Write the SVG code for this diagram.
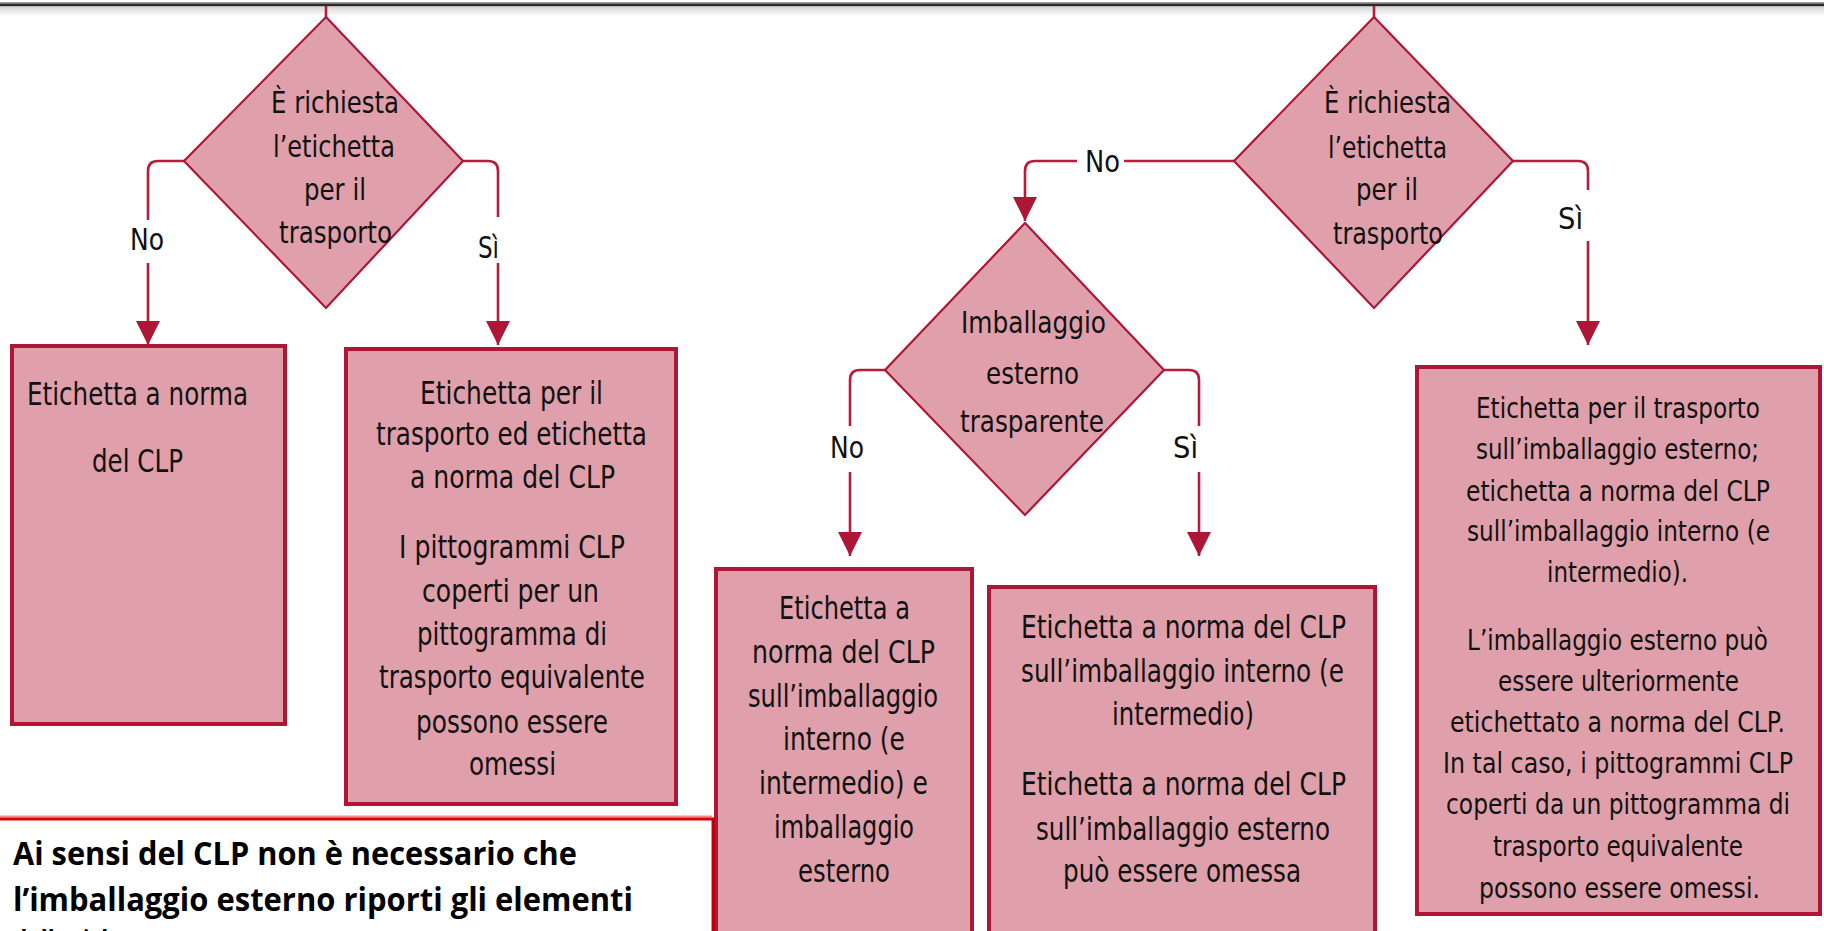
<svg xmlns="http://www.w3.org/2000/svg" width="1824" height="931" viewBox="0 0 1824 931">
<defs>
<style>
.t{font-family:"DejaVu Sans",Verdana,sans-serif;font-size:32px;fill:#111}
.td{font-family:"DejaVu Sans",Verdana,sans-serif;font-size:31px;fill:#111}
.t5{font-family:"DejaVu Sans",Verdana,sans-serif;font-size:25px;fill:#111}
.lbl{font-family:"DejaVu Sans",Verdana,sans-serif;font-size:31px;fill:#111}
.note{font-family:"Open Sans","Liberation Sans",sans-serif;font-weight:bold;font-size:33px;fill:#000}
.box{fill:#DFA0AB;stroke:#AE1637;stroke-width:4}
.dia{fill:#DFA0AB;stroke:#AE1637;stroke-width:2.2}
.con{fill:none;stroke:#B71C3C;stroke-width:2.6}
</style>
<marker id="arr" markerUnits="userSpaceOnUse" markerWidth="24" markerHeight="24" refX="24" refY="12" orient="auto" viewBox="0 0 24 24">
<path d="M0,0 L24,12 L0,24 z" fill="#AE1637"/>
</marker>
<linearGradient id="shade" x1="0" y1="0" x2="0" y2="1">
<stop offset="0" stop-color="#d6d6d6"/>
<stop offset="1" stop-color="#ffffff"/>
</linearGradient>
</defs>
<rect x="0" y="0" width="1824" height="931" fill="#fff"/>
<g id="topbar">
<rect x="0" y="2" width="1824" height="1.5" fill="#9a9a9a"/>
<rect x="0" y="3.5" width="1824" height="3" fill="#2a2a2a"/>
<rect x="0" y="6.5" width="1824" height="10" fill="url(#shade)"/>
</g>
<g id="connectors">
<path class="con" d="M326,6 V17"/>
<path class="con" d="M1374,6 V17"/>
<path class="con" d="M184,161 H158 Q148,161 148,171 V220"/>
<path class="con" d="M148,263 V345" marker-end="url(#arr)"/>
<path class="con" d="M463,161 H488 Q498,161 498,171 V217"/>
<path class="con" d="M498,263 V345" marker-end="url(#arr)"/>
<path class="con" d="M1234,161 H1124"/>
<path class="con" d="M1077,161 H1035 Q1025,161 1025,171 V221" marker-end="url(#arr)"/>
<path class="con" d="M1513,161 H1578 Q1588,161 1588,171 V190"/>
<path class="con" d="M1588,241 V345" marker-end="url(#arr)"/>
<path class="con" d="M885,370 H860 Q850,370 850,380 V426"/>
<path class="con" d="M850,472 V556" marker-end="url(#arr)"/>
<path class="con" d="M1164,370 H1189 Q1199,370 1199,380 V426"/>
<path class="con" d="M1199,472 V556" marker-end="url(#arr)"/>
<text class="lbl" x="130" y="250" textLength="34" lengthAdjust="spacingAndGlyphs">No</text>
<text class="lbl" x="478" y="258" textLength="21" lengthAdjust="spacingAndGlyphs">Sì</text>
<text class="lbl" x="1085" y="172" textLength="35" lengthAdjust="spacingAndGlyphs">No</text>
<text class="lbl" x="1558" y="229" textLength="25" lengthAdjust="spacingAndGlyphs">Sì</text>
<text class="lbl" x="830" y="458" textLength="34" lengthAdjust="spacingAndGlyphs">No</text>
<text class="lbl" x="1173" y="458" textLength="25" lengthAdjust="spacingAndGlyphs">Sì</text>
</g>
<g id="decision1">
<polygon class="dia" points="326,17 463,161 326,308 184,161"/>
<text class="td" x="271" y="113" textLength="128" lengthAdjust="spacingAndGlyphs">È richiesta</text>
<text class="td" x="273" y="157" textLength="122" lengthAdjust="spacingAndGlyphs">l’etichetta</text>
<text class="td" x="304" y="200" textLength="62" lengthAdjust="spacingAndGlyphs">per il</text>
<text class="td" x="279" y="243" textLength="113" lengthAdjust="spacingAndGlyphs">trasporto</text>
</g>
<g id="box1">
<rect class="box" x="12" y="346" width="273" height="378"/>
<text class="t" x="27" y="405" textLength="221" lengthAdjust="spacingAndGlyphs">Etichetta a norma</text>
<text class="t" x="92" y="472" textLength="91" lengthAdjust="spacingAndGlyphs">del CLP</text>
</g>
<g id="box2">
<rect class="box" x="346" y="349" width="330" height="455"/>
<text class="t" x="420" y="404" textLength="183" lengthAdjust="spacingAndGlyphs">Etichetta per il</text>
<text class="t" x="376" y="445" textLength="271" lengthAdjust="spacingAndGlyphs">trasporto ed etichetta</text>
<text class="t" x="410" y="488" textLength="205" lengthAdjust="spacingAndGlyphs">a norma del CLP</text>
<text class="t" x="399" y="558" textLength="226" lengthAdjust="spacingAndGlyphs">I pittogrammi CLP</text>
<text class="t" x="422" y="602" textLength="177" lengthAdjust="spacingAndGlyphs">coperti per un</text>
<text class="t" x="417" y="645" textLength="190" lengthAdjust="spacingAndGlyphs">pittogramma di</text>
<text class="t" x="379" y="688" textLength="266" lengthAdjust="spacingAndGlyphs">trasporto equivalente</text>
<text class="t" x="416" y="733" textLength="192" lengthAdjust="spacingAndGlyphs">possono essere</text>
<text class="t" x="469" y="775" textLength="87" lengthAdjust="spacingAndGlyphs">omessi</text>
</g>
<g id="decision2">
<polygon class="dia" points="1374,17 1513,161 1374,308 1234,161"/>
<text class="td" x="1324" y="113" textLength="127" lengthAdjust="spacingAndGlyphs">È richiesta</text>
<text class="td" x="1328" y="158" textLength="119" lengthAdjust="spacingAndGlyphs">l’etichetta</text>
<text class="td" x="1356" y="200" textLength="62" lengthAdjust="spacingAndGlyphs">per il</text>
<text class="td" x="1333" y="244" textLength="110" lengthAdjust="spacingAndGlyphs">trasporto</text>
</g>
<g id="decision3">
<polygon class="dia" points="1025,223 1164,370 1025,515 885,370"/>
<text class="td" x="961" y="333" textLength="145" lengthAdjust="spacingAndGlyphs">Imballaggio</text>
<text class="td" x="986" y="384" textLength="93" lengthAdjust="spacingAndGlyphs">esterno</text>
<text class="td" x="960" y="432" textLength="144" lengthAdjust="spacingAndGlyphs">trasparente</text>
</g>
<g id="box3">
<rect class="box" x="716" y="569" width="256" height="380"/>
<text class="t" x="779" y="619" textLength="131" lengthAdjust="spacingAndGlyphs">Etichetta a</text>
<text class="t" x="752" y="663" textLength="183" lengthAdjust="spacingAndGlyphs">norma del CLP</text>
<text class="t" x="748" y="707" textLength="190" lengthAdjust="spacingAndGlyphs">sull’imballaggio</text>
<text class="t" x="783" y="750" textLength="122" lengthAdjust="spacingAndGlyphs">interno (e</text>
<text class="t" x="759" y="794" textLength="169" lengthAdjust="spacingAndGlyphs">intermedio) e</text>
<text class="t" x="774" y="838" textLength="140" lengthAdjust="spacingAndGlyphs">imballaggio</text>
<text class="t" x="798" y="882" textLength="92" lengthAdjust="spacingAndGlyphs">esterno</text>
</g>
<g id="box4">
<rect class="box" x="989" y="587" width="386" height="362"/>
<text class="t" x="1021" y="638" textLength="325" lengthAdjust="spacingAndGlyphs">Etichetta a norma del CLP</text>
<text class="t" x="1021" y="682" textLength="323" lengthAdjust="spacingAndGlyphs">sull’imballaggio interno (e</text>
<text class="t" x="1112" y="725" textLength="142" lengthAdjust="spacingAndGlyphs">intermedio)</text>
<text class="t" x="1021" y="795" textLength="325" lengthAdjust="spacingAndGlyphs">Etichetta a norma del CLP</text>
<text class="t" x="1036" y="840" textLength="294" lengthAdjust="spacingAndGlyphs">sull’imballaggio esterno</text>
<text class="t" x="1063" y="882" textLength="238" lengthAdjust="spacingAndGlyphs">può essere omessa</text>
</g>
<g id="box5">
<rect class="box" x="1417" y="367" width="403" height="547"/>
<text class="t5" x="1476" y="418" transform="matrix(1 0 0 1.16 0 -66.88)" textLength="284" lengthAdjust="spacingAndGlyphs">Etichetta per il trasporto</text>
<text class="t5" x="1476" y="459" transform="matrix(1 0 0 1.16 0 -73.44)" textLength="283" lengthAdjust="spacingAndGlyphs">sull’imballaggio esterno;</text>
<text class="t5" x="1466" y="501" transform="matrix(1 0 0 1.16 0 -80.16)" textLength="304" lengthAdjust="spacingAndGlyphs">etichetta a norma del CLP</text>
<text class="t5" x="1467" y="541" transform="matrix(1 0 0 1.16 0 -86.56)" textLength="303" lengthAdjust="spacingAndGlyphs">sull’imballaggio interno (e</text>
<text class="t5" x="1547" y="582" transform="matrix(1 0 0 1.16 0 -93.12)" textLength="141" lengthAdjust="spacingAndGlyphs">intermedio).</text>
<text class="t5" x="1467" y="650" transform="matrix(1 0 0 1.16 0 -104)" textLength="301" lengthAdjust="spacingAndGlyphs">L’imballaggio esterno può</text>
<text class="t5" x="1498" y="691" transform="matrix(1 0 0 1.16 0 -110.56)" textLength="241" lengthAdjust="spacingAndGlyphs">essere ulteriormente</text>
<text class="t5" x="1450" y="732" transform="matrix(1 0 0 1.16 0 -117.12)" textLength="335" lengthAdjust="spacingAndGlyphs">etichettato a norma del CLP.</text>
<text class="t5" x="1443" y="773" transform="matrix(1 0 0 1.16 0 -123.68)" textLength="350" lengthAdjust="spacingAndGlyphs">In tal caso, i pittogrammi CLP</text>
<text class="t5" x="1446" y="814" transform="matrix(1 0 0 1.16 0 -130.24)" textLength="344" lengthAdjust="spacingAndGlyphs">coperti da un pittogramma di</text>
<text class="t5" x="1493" y="856" transform="matrix(1 0 0 1.16 0 -136.96)" textLength="250" lengthAdjust="spacingAndGlyphs">trasporto equivalente</text>
<text class="t5" x="1479" y="898" transform="matrix(1 0 0 1.16 0 -143.68)" textLength="281" lengthAdjust="spacingAndGlyphs">possono essere omessi.</text>
</g>
<g id="note">
<line x1="0" y1="816.5" x2="712" y2="816.5" stroke="#F28A8A" stroke-width="2"/>
<rect x="-4" y="819" width="717" height="150" fill="#fff" stroke="#E00000" stroke-width="3"/>
<line x1="713.5" y1="818" x2="713.5" y2="931" stroke="#A00010" stroke-width="2"/>
<text class="note" x="13" y="865" textLength="564" lengthAdjust="spacingAndGlyphs">Ai sensi del CLP non è necessario che</text>
<text class="note" x="13" y="911" textLength="620" lengthAdjust="spacingAndGlyphs">l’imballaggio esterno riporti gli elementi</text>
<text class="note" x="13" y="954" textLength="150" lengthAdjust="spacingAndGlyphs">dell’etichetta</text>
</g>
</svg>
